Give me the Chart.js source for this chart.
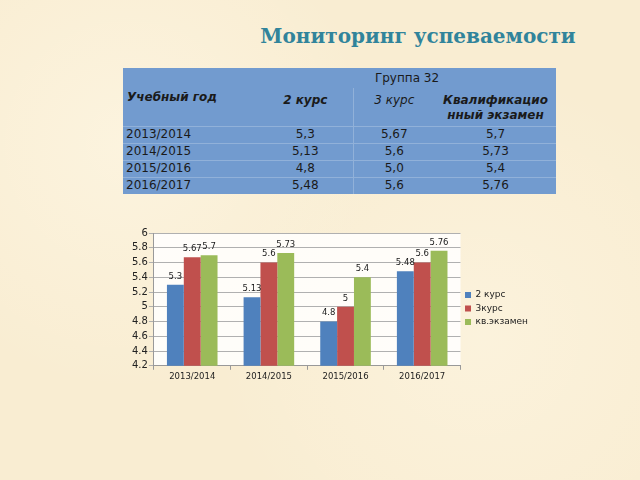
<!DOCTYPE html>
<html>
<head>
<meta charset="utf-8">
<script src="https://cdn.jsdelivr.net/npm/chart.js@4.4.0/dist/chart.umd.min.js"></script>
<style>
  html, body { margin:0; padding:0; }
  body {
    width:640px; height:480px; overflow:hidden; position:relative;
    background:#f9edd2;
    background-image:
      radial-gradient(circle at 20% 30%, rgba(255,250,235,.5), rgba(255,250,235,0) 40%),
      radial-gradient(circle at 75% 70%, rgba(255,250,235,.4), rgba(255,250,235,0) 45%);
    font-family:"DejaVu Sans", sans-serif;
  }
  #title {
    position:absolute; left:248px; top:24px; width:340px; text-align:center;
    font-family:"DejaVu Serif", serif; font-weight:bold; font-size:20px; color:#31849b;
  }
  #tbl {
    position:absolute; left:123px; top:68px;
    border-collapse:collapse; table-layout:fixed;
    background:#729bcf; color:#1a1a1a; font-size:12px;
  }
  #tbl th, #tbl td { padding:0; }
  #tbl tr.h1 th { height:20px; font-weight:normal; text-align:center; vertical-align:middle; }
  #tbl tr.h2 th { height:38px; vertical-align:top; padding-top:5px; box-sizing:border-box; line-height:15px; text-align:center; font-style:italic; }
  #tbl tr.h1 th.yr { text-align:left; padding-left:4px; font-weight:bold; font-style:italic; vertical-align:middle; }
  #tbl .b { font-weight:bold; }
  #tbl .n { font-weight:normal; }
  #tbl td { height:16px; line-height:15px; text-align:center; border-top:1px solid rgba(255,255,255,.22); }
  #tbl td.y { text-align:left; padding-left:3px; }
  #tbl .sep { border-left:1px solid rgba(255,255,255,.22); }
  #wrap { position:absolute; left:118px; top:222px; width:430px; height:172px; }
</style>
</head>
<body>
<div id="title">Мониторинг успеваемости</div>
<table id="tbl">
  <colgroup><col style="width:135px"><col style="width:95px"><col style="width:82px"><col style="width:121px"></colgroup>
  <tbody id="tb">
    <tr class="h1"><th rowspan="2" class="yr">Учебный год</th><th colspan="3" id="grp"></th></tr>
    <tr class="h2"><th class="b">2 курс</th><th class="n sep">3 курс</th><th class="b">Квалификацио<br>нный экзамен</th></tr>
  </tbody>
</table>
<div id="wrap"><canvas id="c"></canvas></div>
<script>
const groupName = 'Группа 32';
const years = ['2013/2014','2014/2015','2015/2016','2016/2017'];
const course2 = [5.3, 5.13, 4.8, 5.48];
const course3 = [5.67, 5.6, 5.0, 5.6];
const exam = [5.7, 5.73, 5.4, 5.76];
const seriesNames = ['2 курс','3курс','кв.экзамен'];
const seriesColors = ['#4f81bd','#c0504d','#9bbb59'];
const yTicks = [4.2,4.4,4.6,4.8,5,5.2,5.4,5.6,5.8,6];

// table under the title
document.getElementById('grp').textContent = groupName;
const fmt = v => { const s = String(v); return (s.includes('.') ? s : v.toFixed(1)).replace('.', ','); };
const tb = document.getElementById('tb');
years.forEach((y,i)=>{
  const tr = document.createElement('tr');
  tr.innerHTML = '<td class="y">'+y+'</td><td>'+fmt(course2[i])+'</td><td class="sep">'+fmt(course3[i])+'</td><td>'+fmt(exam[i])+'</td>';
  tb.appendChild(tr);
});

const plotBg = {
  id:'plotBg',
  beforeDraw(ch){
    const a = ch.chartArea, ctx = ch.ctx;
    ctx.save();
    ctx.fillStyle = 'rgba(255,255,255,0.85)';
    ctx.fillRect(a.left, a.top, a.right-a.left, a.bottom-a.top);
    ctx.restore();
  }
};
const barLabels = {
  id:'barLabels',
  afterDatasetsDraw(ch){
    const ctx = ch.ctx;
    ctx.save();
    ctx.font = '8.5px "DejaVu Sans"';
    ctx.fillStyle = '#1a1a1a';
    ctx.textAlign = 'center';
    ctx.textBaseline = 'bottom';
    ch.data.datasets.forEach((ds,di)=>{
      ch.getDatasetMeta(di).data.forEach((bar,i)=>{
        ctx.fillText(String(ds.data[i]), bar.x, bar.y - 4);
      });
    });
    ctx.restore();
  }
};

const sets = [course2, course3, exam].map((d,i)=>({
  label:seriesNames[i], data:d, backgroundColor:seriesColors[i],
  barPercentage:1, categoryPercentage:0.66
}));

new Chart('c',{
  type:'bar',
  data:{labels:years, datasets:sets},
  options:{
    responsive:true, maintainAspectRatio:false, animation:false,
    layout:{padding:{left:13,right:10,top:11,bottom:10}},
    plugins:{
      legend:{position:'right',labels:{boxWidth:6,boxHeight:6,padding:4.5,color:'#222',font:{family:'DejaVu Sans',size:9}}},
      tooltip:{enabled:false}
    },
    scales:{
      x:{
        grid:{drawOnChartArea:false,color:'#999',tickLength:4},
        border:{color:'#999'},
        ticks:{color:'#222',font:{family:'DejaVu Sans',size:8.5},padding:2}
      },
      y:{
        min:4.2, max:6,
        afterBuildTicks:s=>{ s.ticks = yTicks.map(v=>({value:v})); },
        grid:{color:'#b0b0b0',tickLength:5},
        border:{color:'#999'},
        ticks:{autoSkip:false,color:'#222',font:{family:'DejaVu Sans',size:10},padding:1,callback:v=>String(+v.toFixed(1))}
      }
    }
  },
  plugins:[plotBg, barLabels]
});
</script>
</body>
</html>
